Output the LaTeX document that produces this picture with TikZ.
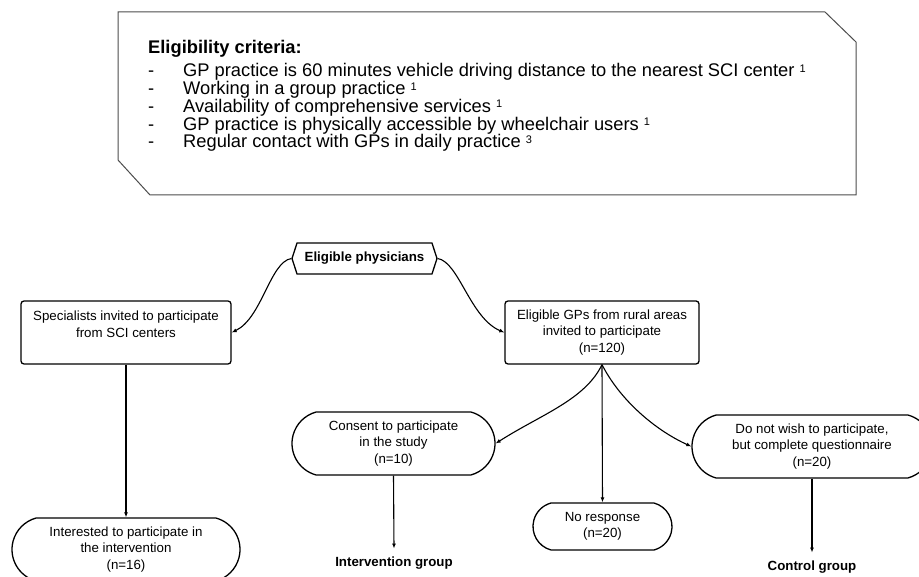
\documentclass[tikz,border=0pt]{standalone}
\usepackage{fontspec}
\setmainfont{Liberation Sans}
\usetikzlibrary{arrows.meta,shapes.misc,shapes.symbols}

\newcommand{\boxfont}{\fontsize{13.3}{16.5}\selectfont}
\newcommand{\critfont}{\fontsize{18.3}{17.8}\selectfont}
\newcommand{\critem}{\makebox[35pt][l]{-}}
\newcommand{\refnum}[1]{\raisebox{4.5pt}{\fontsize{11}{11}\selectfont #1}}

\tikzset{
  box/.style={draw, line width=1.3pt, rounded corners=3pt, align=center,
    inner sep=0pt, font=\boxfont},
  pill/.style={draw, line width=1.3pt, rounded rectangle,
    rounded rectangle arc length=150, align=center, inner sep=0pt, font=\boxfont},
  grp/.style={font=\boxfont\bfseries, inner xsep=0pt, inner ysep=8pt},
  link/.style={line width=1.1pt, -{Latex[length=5pt,width=4pt]}},
}

\begin{document}
\begin{tikzpicture}[x=1pt,y=-1pt]
  \useasboundingbox (0,0) rectangle (919,577);
  \clip (0,0) rectangle (919,577);

  % criteria frame
  \draw[line width=1pt, black!70] (118,12) -- (825,12) -- (856,42) -- (856,195)
    -- (150,195) -- (118,160) -- cycle;
  \node[anchor=north west, inner sep=0pt, align=left, font=\critfont] (crit) at (148,40)
    {\textbf{Eligibility criteria:}\\[5.5pt]
     \critem GP practice is 60 minutes vehicle driving distance to the nearest SCI center \refnum{1}\\
     \critem Working in a group practice \refnum{1}\\
     \critem Availability of comprehensive services \refnum{1}\\
     \critem GP practice is physically accessible by wheelchair users \refnum{1}\\
     \critem Regular contact with GPs in daily practice \refnum{3}};

  % flow
  \node[draw, line width=1.3pt, signal, signal to=west and east, signal pointer angle=144,
    minimum width=145pt, minimum height=31pt, inner sep=0pt, font=\boxfont\bfseries]
    (phys) at (364.5,258.5) {Eligible physicians};

  \node[box, minimum width=210pt, minimum height=63pt] (spec) at (126,332.5)
    {Specialists invited to participate\\from SCI centers\\ \mbox{}};
  \node[box, minimum width=194pt, minimum height=63pt] (gps) at (602,332.5)
    {Eligible GPs from rural areas\\invited to participate\\(n=120)};

  \node[pill, minimum width=228pt, minimum height=63pt] (inter) at (126,549.5)
    {Interested to participate in\\the intervention\\(n=16)};
  \node[pill, minimum width=203pt, minimum height=63pt] (consent) at (393.5,443.5)
    {Consent to participate\\in the study\\(n=10)};
  \node[pill, minimum width=139pt, minimum height=47pt] (noresp) at (602.5,526.5)
    {No response\\(n=20)};
  \node[pill, minimum width=240pt, minimum height=63pt] (nowish) at (812,446.5)
    {Do not wish to participate,\\but complete questionnaire\\(n=20)};

  \node[grp] (igroup) at (394,563) {Intervention group};
  \node[grp] (cgroup) at (812,567) {Control group};

  \draw[link] (phys.west) .. controls (270,262) and (262,318) .. (spec.east);
  \draw[link] (phys.east) .. controls (459,262) and (470,318) .. (gps.west);
  \draw[link] (spec.south) -- (inter.north);
  \draw[link] (gps.south) .. controls (585,400) and (540,415) .. (consent.east);
  \draw[link] (gps.south) -- (noresp.north);
  \draw[link] (gps.south) .. controls (620,400) and (655,430) .. (nowish.west);
  \draw[link] (consent.south) -- (igroup.north);
  \draw[link] (nowish.south) -- (cgroup.north);
\end{tikzpicture}
\end{document}
